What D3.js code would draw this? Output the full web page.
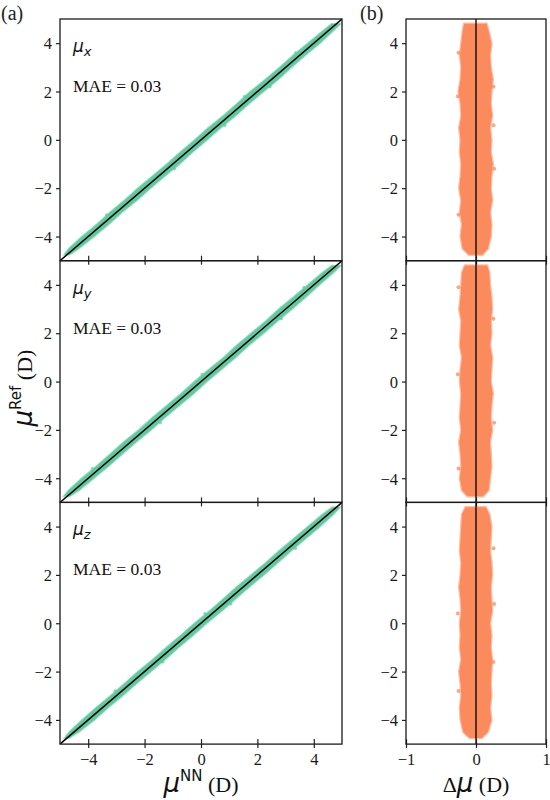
<!DOCTYPE html>
<html>
<head>
<meta charset="utf-8">
<script src="https://cdn.jsdelivr.net/npm/d3@7"></script>
<style>
  body { margin: 0; background: #fff; }
  svg { display: block; }
  .tick text { font-family: "Liberation Serif", "Times New Roman", serif; font-size: 16.5px; fill: #1a1a1a; }
</style>
</head>
<body>
<div id="chart"></div>
<script>
const width = 550;
const height = 800;

// chart data
const components = ["x", "y", "z"];
const maeValues = ["0.03", "0.03", "0.03"];
const refTicks = [-4, -2, 0, 2, 4];
const nnTicks = [-4, -2, 0, 2, 4];
const deltaTicks = [-1, 0, 1];

// reference values at which the spread of the point cloud was read
const refLevels = [-4.75, -4.5, -4, -3.5, -3, -2.5, -2, -1.5, -1, -0.5, 0, 0.5, 1, 1.5, 2, 2.5, 3, 3.5, 4, 4.5, 4.8];

// lower / upper edge of the error cloud (Delta mu, D) for each component
const deltaLoX = [-0.10, -0.19, -0.22, -0.20, -0.23, -0.21, -0.24, -0.22, -0.21, -0.23, -0.22, -0.24, -0.21, -0.22, -0.25, -0.22, -0.21, -0.23, -0.21, -0.19, -0.17];
const deltaHiX = [0.09, 0.17, 0.21, 0.22, 0.20, 0.23, 0.21, 0.22, 0.24, 0.21, 0.22, 0.20, 0.23, 0.21, 0.22, 0.24, 0.21, 0.20, 0.22, 0.18, 0.15];
const deltaLoY = [-0.12, -0.20, -0.23, -0.21, -0.22, -0.24, -0.21, -0.23, -0.22, -0.21, -0.23, -0.22, -0.20, -0.23, -0.22, -0.21, -0.24, -0.22, -0.21, -0.20, -0.16];
const deltaHiY = [0.10, 0.18, 0.20, 0.22, 0.21, 0.20, 0.23, 0.21, 0.22, 0.24, 0.21, 0.22, 0.23, 0.20, 0.22, 0.21, 0.23, 0.22, 0.20, 0.19, 0.16];
const deltaLoZ = [-0.09, -0.18, -0.22, -0.23, -0.21, -0.22, -0.24, -0.21, -0.23, -0.22, -0.23, -0.21, -0.22, -0.24, -0.22, -0.21, -0.23, -0.22, -0.21, -0.20, -0.15];
const deltaHiZ = [0.08, 0.17, 0.22, 0.20, 0.22, 0.21, 0.22, 0.23, 0.21, 0.22, 0.20, 0.23, 0.22, 0.21, 0.23, 0.22, 0.20, 0.21, 0.22, 0.19, 0.14];

// a few stray points at the edge of the cloud [ref, delta]
const outliersX = [[3.6, -0.25], [1.8, -0.26], [2.2, 0.25], [-1.2, 0.26], [-3.1, -0.25], [0.6, 0.25]];
const outliersY = [[3.9, -0.25], [2.6, 0.25], [0.3, -0.26], [-1.7, 0.26], [-3.6, -0.25]];
const outliersZ = [[0.8, 0.26], [0.4, -0.26], [-1.6, 0.25], [-2.8, -0.25], [3.1, 0.25]];

const deltaLo = [deltaLoX, deltaLoY, deltaLoZ];
const deltaHi = [deltaHiX, deltaHiY, deltaHiZ];
const outliers = [outliersX, outliersY, outliersZ];

const green = "#61c9a1";
const orange = "#fb8b5d";
const serif = "'Liberation Serif', 'Times New Roman', serif";
const sans = "'DejaVu Sans', sans-serif";

const left = { x0: 60, x1: 342 };
const right = { x0: 406, x1: 546 };
const rowTop = 19;
const rowH = 241.7;

const svg = d3.select("#chart")
    .append("svg")
    .attr("width", width)
    .attr("height", height);

const xNN = d3.scaleLinear().domain([-5, 5]).range([left.x0, left.x1]);
const xD = d3.scaleLinear().domain([-1, 1]).range([right.x0, right.x1]);

const fmt = d => d3.format("")(d).replace("-", "\u2212");

components.forEach((comp, i) => {
    const y0 = rowTop + i * rowH;
    const y = d3.scaleLinear().domain([-5, 5]).range([y0 + rowH, y0]);
    const isLast = i === components.length - 1;

    const band = refLevels.map((r, k) => ({ ref: r, lo: deltaLo[i][k], hi: deltaHi[i][k] }));

    // ---- left panel: mu NN vs mu Ref
    const gl = svg.append("g");
    const clipId = `clipL${i}`;
    svg.append("clipPath").attr("id", clipId)
        .append("rect")
        .attr("x", left.x0).attr("y", y0)
        .attr("width", left.x1 - left.x0).attr("height", rowH);

    const plotL = gl.append("g").attr("clip-path", `url(#${clipId})`);

    const areaL = d3.area()
        .y(d => y(d.ref))
        .x0(d => xNN(d.ref + d.lo))
        .x1(d => xNN(d.ref + d.hi));

    plotL.append("path")
        .datum(band)
        .attr("d", areaL)
        .attr("fill", green)
        .attr("stroke", green)
        .attr("stroke-opacity", 0.55)
        .attr("stroke-width", 1.8);

    plotL.selectAll("circle.out")
        .data(outliers[i])
        .join("circle")
        .attr("cx", d => xNN(d[0] + d[1]))
        .attr("cy", d => y(d[0]))
        .attr("r", 1.6)
        .attr("fill", green)
        .attr("fill-opacity", 0.7);

    plotL.append("line")
        .attr("x1", xNN(-5)).attr("y1", y(-5))
        .attr("x2", xNN(5)).attr("y2", y(5))
        .attr("stroke", "#000")
        .attr("stroke-width", 1.5);

    // ---- right panel: delta vs mu Ref
    const gr = svg.append("g");
    const clipR = `clipR${i}`;
    svg.append("clipPath").attr("id", clipR)
        .append("rect")
        .attr("x", right.x0).attr("y", y0)
        .attr("width", right.x1 - right.x0).attr("height", rowH);
    const plotR = gr.append("g").attr("clip-path", `url(#${clipR})`);

    const areaR = d3.area()
        .y(d => y(d.ref))
        .x0(d => xD(d.lo))
        .x1(d => xD(d.hi));

    plotR.append("path")
        .datum(band)
        .attr("d", areaR)
        .attr("fill", orange)
        .attr("stroke", orange)
        .attr("stroke-opacity", 0.55)
        .attr("stroke-width", 2.5);

    plotR.selectAll("circle.out")
        .data(outliers[i])
        .join("circle")
        .attr("cx", d => xD(d[1]))
        .attr("cy", d => y(d[0]))
        .attr("r", 2)
        .attr("fill", orange)
        .attr("fill-opacity", 0.75);

    plotR.append("line")
        .attr("x1", xD(0)).attr("y1", y(-5))
        .attr("x2", xD(0)).attr("y2", y(5))
        .attr("stroke", "#000")
        .attr("stroke-width", 1.3);

    // ---- axes
    [[gl, left, xNN, nnTicks], [gr, right, xD, deltaTicks]].forEach(([g, box, xs, xt]) => {
        const ya = g.append("g")
            .attr("transform", `translate(${box.x0},0)`)
            .call(d3.axisLeft(y).tickValues(refTicks).tickSize(4).tickFormat(fmt));
        ya.select(".domain").remove();
        ya.selectAll(".tick line").attr("stroke", "#222").attr("stroke-width", 1.2);
        ya.selectAll(".tick text").attr("x", -8).attr("dy", "0.35em");

        const xa = g.append("g")
            .attr("transform", `translate(0,${y0 + rowH})`)
            .call(d3.axisBottom(xs).tickValues(xt).tickSize(4)
                .tickFormat(isLast ? fmt : ""));
        xa.select(".domain").remove();
        xa.selectAll(".tick line").attr("y1", -5).attr("y2", 4)
            .attr("stroke", "#222").attr("stroke-width", 1.2);
        xa.selectAll(".tick text").attr("y", 9).attr("dy", "0.71em");

        g.append("rect")
            .attr("x", box.x0).attr("y", y0)
            .attr("width", box.x1 - box.x0).attr("height", rowH)
            .attr("fill", "none")
            .attr("stroke", "#1a1a1a")
            .attr("stroke-width", 1.3);
    });

    // ---- labels in the left panel
    const lab = gl.append("text")
        .attr("x", 73)
        .attr("y", y0 + 33)
        .attr("font-family", sans)
        .attr("font-style", "italic")
        .attr("font-size", 17)
        .attr("fill", "#111");
    lab.append("tspan").text("\u03bc");
    lab.append("tspan").attr("dy", 4).attr("font-size", 13).text(comp);

    gl.append("text")
        .attr("x", 73)
        .attr("y", y0 + 73)
        .attr("font-family", serif)
        .attr("font-size", 17.5)
        .attr("fill", "#111")
        .text(`MAE = ${maeValues[i]}`);
});

// panel letters
svg.append("text").attr("x", 1).attr("y", 20)
    .attr("font-family", serif).attr("font-size", 20).attr("fill", "#222").text("(a)");
svg.append("text").attr("x", 360).attr("y", 20)
    .attr("font-family", serif).attr("font-size", 20).attr("fill", "#222").text("(b)");

// axis titles
function axisTitle(g, sup) {
    g.append("tspan").attr("font-family", sans).attr("font-style", "italic")
        .attr("font-size", 26).text("\u03bc");
    g.append("tspan").attr("font-family", sans).attr("font-size", 15)
        .attr("dy", -11).text(sup);
    g.append("tspan").attr("font-family", serif).attr("font-size", 22)
        .attr("dy", 11).text(" (D)");
}

const xTitle = svg.append("text")
    .attr("x", (left.x0 + left.x1) / 2)
    .attr("y", 792)
    .attr("text-anchor", "middle")
    .attr("fill", "#111");
axisTitle(xTitle, "NN");

const yTitle = svg.append("text")
    .attr("transform", "translate(32,388) rotate(-90)")
    .attr("text-anchor", "middle")
    .attr("fill", "#111");
axisTitle(yTitle, "Ref");

const dTitle = svg.append("text")
    .attr("x", (right.x0 + right.x1) / 2)
    .attr("y", 792)
    .attr("text-anchor", "middle")
    .attr("fill", "#111");
dTitle.append("tspan").attr("font-family", serif).attr("font-size", 22).text("\u0394");
dTitle.append("tspan").attr("font-family", sans).attr("font-style", "italic").attr("font-size", 26).text("\u03bc");
dTitle.append("tspan").attr("font-family", serif).attr("font-size", 22).text(" (D)");
</script>
</body>
</html>
